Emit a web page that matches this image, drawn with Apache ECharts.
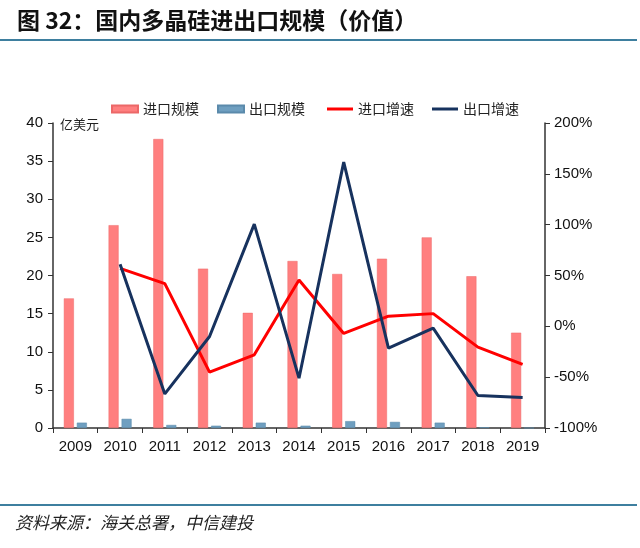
<!DOCTYPE html>
<html>
<head>
<meta charset="utf-8">
<script src="https://cdn.jsdelivr.net/npm/echarts@6/dist/echarts.min.js"></script>
<style>
html,body{margin:0;padding:0;background:#fff;}
#c{width:640px;height:548px;}
</style>
</head>
<body>
<div id="c"></div>
<script>
var years = ['2009','2010','2011','2012','2013','2014','2015','2016','2017','2018','2019'];
var importValue = [17.0, 26.6, 37.9, 20.9, 15.1, 21.9, 20.2, 22.2, 25.0, 19.9, 12.5];
var exportValue = [0.7, 1.2, 0.4, 0.3, 0.7, 0.3, 0.9, 0.8, 0.7, 0.1, 0.0];
var importGrowth = [null, 57, 42, -45, -28, 45.5, -7, 10, 12.5, -20.5, -37.5];
var exportGrowth = [null, 61, -66.5, -10, 100.5, -51, 161.5, -21.5, -1.7, -68, -70];
var leftTicks = [0, 5, 10, 15, 20, 25, 30, 35, 40];
var rightTicks = ['-100%', '-50%', '0%', '50%', '100%', '150%', '200%'];

var font = 'Liberation Sans, Arial, sans-serif';
var cjk = 'Noto Sans CJK SC';
var chart = echarts.init(document.getElementById('c'));
chart.setOption({
  animation: false,
  backgroundColor: '#fff',
  title: [{
    text: '图 32：国内多晶硅进出口规模（价值）',
    left: 12, top: 4,
    textStyle: {fontFamily: cjk, fontSize: 23, fontWeight: 'bold', color: '#111'}
  }, {
    text: '资料来源：海关总署，中信建投',
    left: 10, top: 509,
    textStyle: {fontFamily: cjk, fontSize: 17, fontStyle: 'italic', fontWeight: 'normal', color: '#222'}
  }],
  graphic: [
    {type: 'line', shape: {x1: 0, y1: 40, x2: 637, y2: 40}, style: {stroke: '#3e7f9f', lineWidth: 2}},
    {type: 'line', shape: {x1: 0, y1: 505, x2: 637, y2: 505}, style: {stroke: '#3e7f9f', lineWidth: 2}},
    {type: 'text', left: 60, top: 118, style: {text: '亿美元', font: '13px "Noto Sans CJK SC"', fill: '#222'}}
  ],
  legend: [{
    left: 106, top: 97,
    itemWidth: 26, itemHeight: 7, itemGap: 18,
    textStyle: {fontFamily: cjk, fontSize: 14, color: '#222'},
    data: [
      {name: '进口规模', icon: 'rect'},
      {name: '出口规模', icon: 'rect'}
    ]
  }, {
    left: 322, top: 97,
    itemWidth: 26, itemHeight: 3, itemGap: 18,
    textStyle: {fontFamily: cjk, fontSize: 14, color: '#222'},
    data: [
      {name: '进口增速', icon: 'rect'},
      {name: '出口增速', icon: 'rect'}
    ]
  }],
  grid: {left: 53, right: 95, top: 123, bottom: 120},
  xAxis: {
    type: 'category',
    data: years,
    boundaryGap: true,
    axisLine: {lineStyle: {color: '#333', width: 1.5}},
    axisTick: {show: true, length: 5, lineStyle: {color: '#333'}},
    axisLabel: {fontFamily: font, fontSize: 15, color: '#111', margin: 11}
  },
  yAxis: [{
    type: 'value', min: 0, max: 40, interval: 5,
    axisLine: {show: true, lineStyle: {color: '#333', width: 1.5}},
    axisTick: {show: true, length: 5, lineStyle: {color: '#333'}},
    splitLine: {show: false},
    axisLabel: {fontFamily: font, fontSize: 15, color: '#111', margin: 10,
      formatter: function (v) { return leftTicks.indexOf(v) >= 0 ? String(v) : ''; }}
  }, {
    type: 'value', min: -100, max: 200, interval: 50,
    position: 'right',
    axisLine: {show: true, lineStyle: {color: '#333', width: 1.5}},
    axisTick: {show: true, length: 5, lineStyle: {color: '#333'}},
    splitLine: {show: false},
    axisLabel: {fontFamily: font, fontSize: 15, color: '#111', margin: 9,
      formatter: function (v) { return rightTicks[Math.round((v + 100) / 50)]; }}
  }],
  series: [{
    name: '进口规模', type: 'bar', yAxisIndex: 0,
    data: importValue, barWidth: 10, barGap: '30%',
    itemStyle: {color: '#ff7f7f', borderColor: '#ec6868', borderWidth: 0.5}
  }, {
    name: '出口规模', type: 'bar', yAxisIndex: 0,
    data: exportValue, barWidth: 10,
    itemStyle: {color: '#6f9fc0', borderColor: '#5b8aab', borderWidth: 0.5}
  }, {
    name: '进口增速', type: 'line', yAxisIndex: 1,
    data: importGrowth, symbol: 'none', showSymbol: false,
    lineStyle: {color: '#ff0000', width: 3}, itemStyle: {color: '#ff0000'}
  }, {
    name: '出口增速', type: 'line', yAxisIndex: 1,
    data: exportGrowth, symbol: 'none', showSymbol: false,
    lineStyle: {color: '#17325e', width: 3}, itemStyle: {color: '#17325e'}
  }]
});
</script>
</body>
</html>
